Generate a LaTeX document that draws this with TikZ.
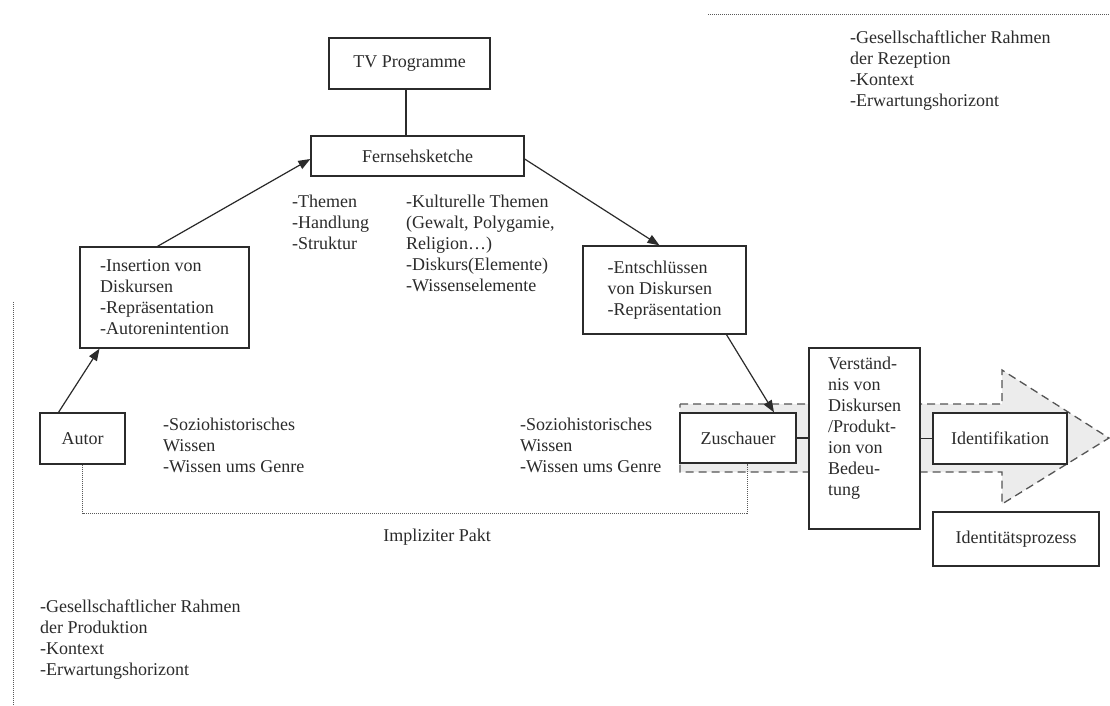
\documentclass[tikz,border=0pt]{standalone}
\usepackage{fontspec}
\setmainfont{Liberation Serif}
\usetikzlibrary{arrows.meta,calc}
\definecolor{ink}{HTML}{2B2B2B}
\definecolor{shade}{HTML}{ECECEC}
\tikzset{
  box/.style={draw=ink, line width=1.3pt, fill=white, inner sep=2pt, align=left, text=ink},
  lbl/.style={inner sep=0pt, align=left, anchor=west, text=ink},
  arr/.style={draw=ink, line width=1.2pt, -{Triangle[length=12pt,width=9pt]}},
  conn/.style={draw=ink, line width=1.2pt},
  dots/.style={draw=black!65, line width=1pt, dash pattern=on 1pt off 1pt},
  bigarrow/.style={draw=ink!80, fill=shade, line width=1.3pt, dash pattern=on 8pt off 5pt}
}
\begin{document}
\begin{tikzpicture}[x=1pt,y=-1pt, font=\fontsize{18}{21}\selectfont]
\useasboundingbox (0,0) rectangle (1110,705);
\fill[white] (0,0) rectangle (1110,705);
% background dashed arrow
\draw[bigarrow] (680,404) -- (1002,404) -- (1002,370) -- (1109,438) -- (1002,504) -- (1002,472) -- (680,472) -- cycle;
% boxes
\node[box, minimum width=161pt, minimum height=51pt] (tv) at (409.5,63.5) {TV Programme};
\node[box, minimum width=213pt, minimum height=40pt] (fern) at (417.5,156) {Fernsehsketche};
\node[box, minimum width=169pt, minimum height=101pt] (ins) at (164.5,297.5) {-Insertion von\\Diskursen\\-Repräsentation\\-Autorenintention};
\node[box, minimum width=163pt, minimum height=88pt] (ent) at (664.5,290) {-Entschlüssen\\von Diskursen\\-Repräsentation};
\node[box, minimum width=85pt, minimum height=51pt] (autor) at (82.5,438.5) {Autor};
\node[box, minimum width=116pt, minimum height=50pt] (zus) at (738,438) {Zuschauer};
\node[box, minimum width=111pt, minimum height=181pt] (verst) at (864.5,438.5) {\raisebox{0pt}{Verständ-}\\nis von\\Diskursen\\/Produkt-\\ion von\\Bedeu-\\tung\\[4pt]};
\node[box, minimum width=134pt, minimum height=51pt] (ident) at (1000,438.5) {Identifikation};
\node[box, minimum width=166pt, minimum height=54pt] (iprozess) at (1016,539) {Identitätsprozess};
% free texts
\node[lbl] (themen) at (292,222) {-Themen\\-Handlung\\-Struktur};
\node[lbl] (kult) at (406,243) {-Kulturelle Themen\\(Gewalt, Polygamie,\\Religion…)\\-Diskurs(Elemente)\\-Wissenselemente};
\node[lbl] (sozL) at (163,445) {-Soziohistorisches\\Wissen\\-Wissen ums Genre};
\node[lbl] (sozR) at (520,445) {-Soziohistorisches\\Wissen\\-Wissen ums Genre};
\node[lbl] (gesP) at (40,640) {-Gesellschaftlicher Rahmen\\der Produktion\\-Kontext\\-Erwartungshorizont};
\node[lbl] (gesR) at (850,71) {-Gesellschaftlicher Rahmen\\der Rezeption\\-Kontext\\-Erwartungshorizont};
\node[inner sep=0pt, text=ink] (pakt) at (437,537) {Impliziter Pakt};
% connectors
\draw[conn] ([xshift=-3.5pt]tv.south) -- ([xshift=-3.5pt]tv.south |- fern.north);
\draw[arr] ([xshift=-24pt]autor.north) -- ([xshift=-65pt]ins.south);
\draw[arr] ([xshift=-7pt]ins.north) -- ([yshift=-3pt]fern.west);
\draw[arr] ([yshift=-3pt]fern.east) -- ([xshift=-5pt]ent.north);
\draw[arr] ([xshift=62pt]ent.south) -- ([xshift=36pt]zus.north);
\draw[conn] (zus.east) -- (verst.west |- zus.east);
\draw[conn] (verst.east |- ident.west) -- (ident.west);
% dotted lines
\coordinate (pk) at (747,513);
\draw[dots] (autor.south) |- (pk) -- ([xshift=9pt]zus.south);
\coordinate (lv1) at (13,302);
\coordinate (lv2) at (13,705);
\draw[dots] (lv1) -- (lv2);
\coordinate (tl1) at (708,14);
\coordinate (tl2) at (1110,14);
\draw[dots] (tl1) -- (tl2);
\end{tikzpicture}
\end{document}
